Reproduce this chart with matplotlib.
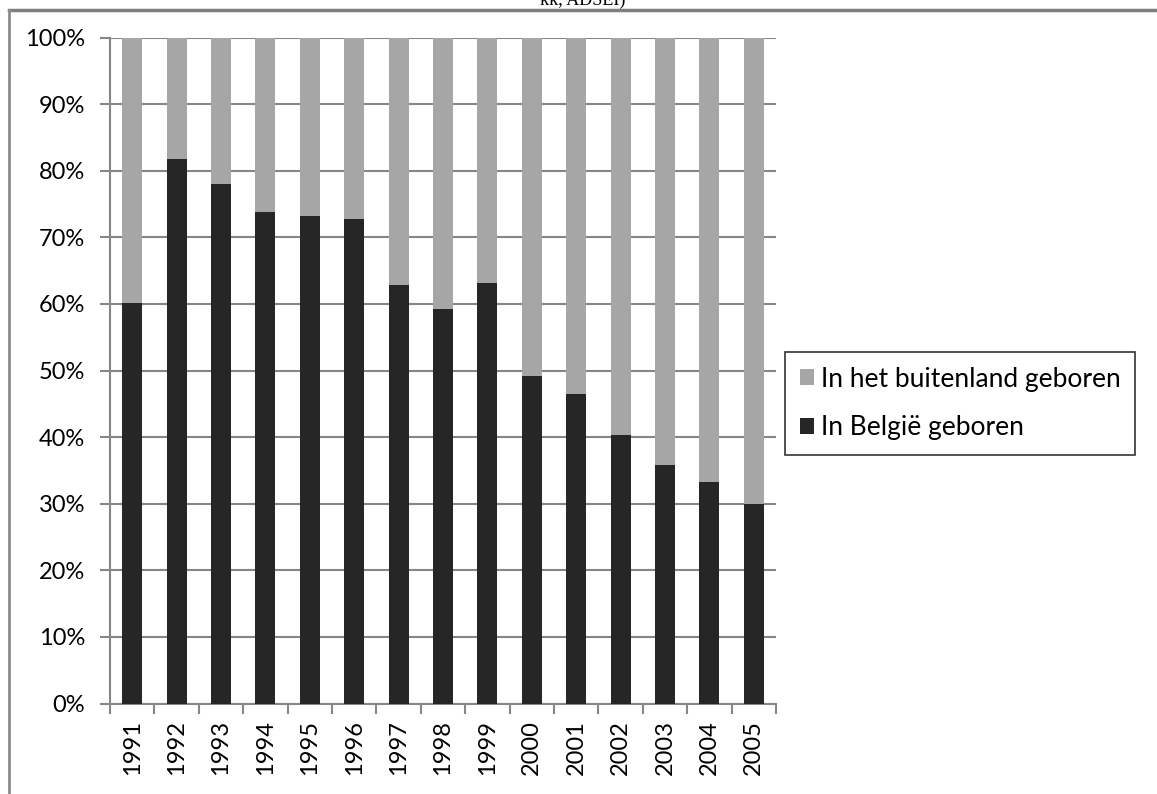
import numpy as np
import matplotlib.pyplot as plt

years = ["1991", "1992", "1993", "1994", "1995", "1996", "1997", "1998",
         "1999", "2000", "2001", "2002", "2003", "2004", "2005"]
belgie = [60.2, 81.7, 78.0, 73.8, 73.2, 72.8, 62.8, 59.2,
          63.2, 49.2, 46.5, 40.3, 35.8, 33.3, 30.0]
buitenland = [100 - v for v in belgie]

dark = "#262626"
light = "#a6a6a6"
grid = "#868686"

plt.rcParams["font.family"] = ["Lato", "DejaVu Sans"]

W, H = 1157, 794
fig = plt.figure(figsize=(W / 100, H / 100), dpi=100)

# outer frame lines, running off the right and bottom edge
top_y = 1 - 9.5 / H
fig.add_artist(plt.Line2D([8.5 / W, 1.0], [top_y, top_y],
                          transform=fig.transFigure, color="#7f7f7f",
                          linewidth=2.5, zorder=20, clip_on=False))
fig.add_artist(plt.Line2D([8.5 / W, 8.5 / W], [0.0, top_y],
                          transform=fig.transFigure, color="#8c8c8c",
                          linewidth=2, zorder=20, clip_on=False))

fig.text(583 / W, 1 - 5 / H, "kk, ADSEI)", ha="center", va="baseline",
         family="Liberation Serif", fontsize=13)

ax = fig.add_axes([110 / W, (H - 703.5) / H, 666 / W, 666 / H])
x = np.arange(len(years))
ax.bar(x, belgie, width=0.45, color=dark, label="In België geboren", zorder=3)
ax.bar(x, buitenland, width=0.45, bottom=belgie, color=light,
       label="In het buitenland geboren", zorder=3)

ax.set_xlim(-0.5, len(years) - 0.5)
ax.set_ylim(0, 100)
ax.set_yticks(np.arange(0, 101, 10))
ax.set_yticklabels([f"{v}%" for v in range(0, 101, 10)])
ax.yaxis.grid(True, color=grid, linewidth=1.5, zorder=0)

ax.set_xticks(x)
ax.set_xticklabels(years, rotation=90)
ax.set_xticks(np.arange(-0.5, len(years), 1), minor=True)
ax.tick_params(axis="x", which="major", length=0, pad=12, labelsize=17)
ax.tick_params(axis="x", which="minor", length=7, width=1.5, color=grid)
ax.tick_params(axis="y", length=7, width=1.5, color=grid, labelsize=17, pad=11)

for s in ["top", "right"]:
    ax.spines[s].set_visible(False)
for s in ["left", "bottom"]:
    ax.spines[s].set_color(grid)
    ax.spines[s].set_linewidth(1.5)

handles, labels = ax.get_legend_handles_labels()
leg = fig.legend(handles[::-1], labels[::-1], loc="upper left",
                 bbox_to_anchor=(785 / W, 1 - 352 / H), fontsize=19,
                 frameon=True, fancybox=False, handlelength=0.55,
                 handleheight=0.55, handletextpad=0.25, labelspacing=0.9,
                 borderpad=0.55, borderaxespad=0)
leg.get_frame().set_edgecolor("black")
leg.get_frame().set_linewidth(1.2)

fig.savefig("out.png", dpi=100)
